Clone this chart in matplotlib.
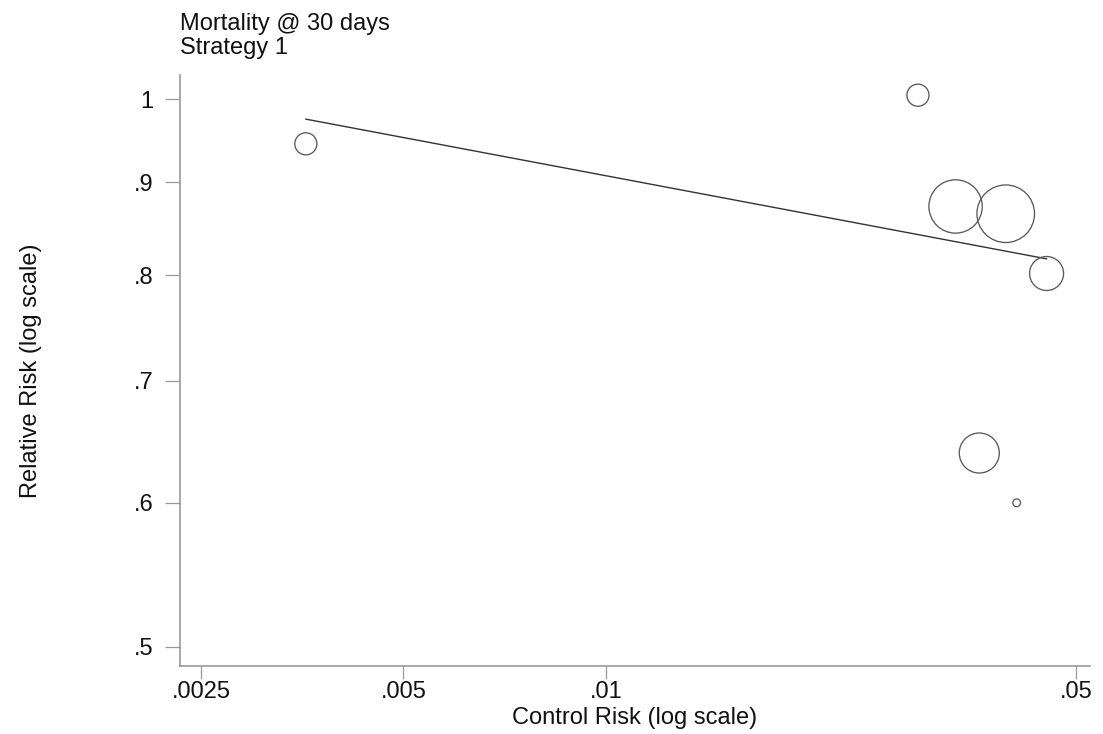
import matplotlib
matplotlib.use('Agg')
import matplotlib.pyplot as plt
from matplotlib.ticker import FixedLocator, NullLocator

# Study data
control_risk = [0.00358, 0.0291, 0.0331, 0.0393, 0.0452, 0.0359, 0.0408]
relative_risk = [0.945, 1.005, 0.873, 0.865, 0.802, 0.639, 0.600]
study_weight = [4.9, 4.9, 28.6, 33.3, 11.6, 16.1, 0.6]  # percent

# fitted meta-regression line (end points)
fit_x = [0.00358, 0.0452]
fit_y = [0.975, 0.817]

x_ticks = [0.0025, 0.005, 0.01, 0.05]
x_labels = ['.0025', '.005', '.01', '.05']
y_ticks = [0.5, 0.6, 0.7, 0.8, 0.9, 1.0]
y_labels = ['.5', '.6', '.7', '.8', '.9', '1']

plt.rcParams['font.family'] = ['Liberation Sans', 'DejaVu Sans']

fig = plt.figure(figsize=(11.03, 7.34), dpi=100)
ax = fig.add_axes([0.1632, 0.0926, 0.8248, 0.8052])

ax.set_xscale('log')
ax.set_yscale('log')
ax.set_xlim(0.002327, 0.0524)
ax.set_ylim(0.488, 1.031)

ax.scatter(control_risk, relative_risk, s=[w * 51.6 for w in study_weight],
           facecolors='none', edgecolors='#5a5a5a', linewidths=0.95, zorder=3)
ax.plot(fit_x, fit_y, color='#333333', linewidth=1.0, zorder=2)

ax.xaxis.set_major_locator(FixedLocator(x_ticks))
ax.xaxis.set_minor_locator(NullLocator())
ax.set_xticklabels(x_labels)
ax.yaxis.set_major_locator(FixedLocator(y_ticks))
ax.yaxis.set_minor_locator(NullLocator())
ax.set_yticklabels(y_labels)

for s in ['top', 'right']:
    ax.spines[s].set_visible(False)
for s in ['left', 'bottom']:
    ax.spines[s].set_color('#999999')
    ax.spines[s].set_linewidth(1.2)

ax.tick_params(axis='y', length=11, width=0.9, color='#999999', pad=8,
               labelsize=17, labelcolor='#111111')
ax.tick_params(axis='x', length=9, width=0.9, color='#999999', pad=2,
               labelsize=17, labelcolor='#111111')

ax.set_xlabel('Control Risk (log scale)', fontsize=17, color='#111111', labelpad=3)
ax.set_ylabel('Relative Risk (log scale)', fontsize=17, color='#111111', labelpad=66)

fig.text(0.1632, 0.982, 'Mortality @ 30 days\nStrategy 1', fontsize=17,
         color='#111111', ha='left', va='top', linespacing=1.1)

fig.savefig('out.png', dpi=100, facecolor='white')
